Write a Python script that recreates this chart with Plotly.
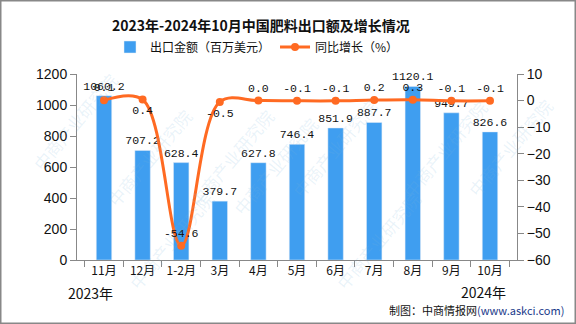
import plotly.graph_objects as go

categories = ["11月", "12月", "1-2月", "3月", "4月", "5月", "6月", "7月", "8月", "9月", "10月"]
export_value = [1060.2, 707.2, 628.4, 379.7, 627.8, 746.4, 851.9, 887.7, 1120.1, 949.7, 826.6]
growth = [0.1, 0.4, -54.6, -0.5, 0.0, -0.1, -0.1, 0.2, 0.3, -0.1, -0.1]
growth_pos = ["top center", "bottom center", "top center", "bottom center", "top center",
              "top center", "top center", "top center", "top center", "top center", "top center"]
left_ticks = [0, 200, 400, 600, 800, 1000, 1200]
right_ticks = [10, 0, -10, -20, -30, -40, -50, -60]

W, H = 576, 324
L, R, T, B = 77, 59, 74, 64
pw, ph = W - L - R, H - T - B


def py(pix):
    return (T + ph - pix) / ph


def px(pix):
    return (pix - L) / pw


label_font = dict(family="Liberation Mono, DejaVu Sans Mono, monospace", size=11.5, color="#111")
cjk = "Noto Sans CJK SC"

fig = go.Figure()
fig.add_trace(go.Bar(
    x=categories, y=export_value, name="出口金额（百万美元）",
    marker=dict(color="#3f9ef0"), width=0.4,
    text=[f"{v:.1f}" for v in export_value], textposition="outside", constraintext="none",
    textfont=label_font, cliponaxis=False, yaxis="y",
))
fig.add_trace(go.Scatter(
    x=categories, y=growth, name="同比增长（%）", yaxis="y2",
    mode="lines+markers+text", line=dict(color="#ff6a22", width=3, shape="spline", smoothing=1.0),
    marker=dict(color="#ff6a22", size=8),
    text=[f"{v:.1f}" for v in growth], textposition=growth_pos,
    textfont=label_font, cliponaxis=False,
))

# watermarks
wm_positions = [(-0.12, 1.05), (0.05, 0.55), (0.35, 0.85), (0.45, 0.2), (0.7, 0.6), (0.95, 0.9),
                (0.8, -0.2), (0.1, -0.2), (1.1, 0.3)]
annotations = []
for (wx, wy) in wm_positions:
    annotations.append(dict(x=wx, y=wy, xref="paper", yref="paper", text="中商产业研究院",
                            showarrow=False, textangle=-50,
                            font=dict(family=cjk, size=17, color="rgba(120,180,220,0.16)")))

annotations += [
    dict(x=px(90), y=py(293), xref="paper", yref="paper", text="2023年", showarrow=False,
         xanchor="center", yanchor="middle", font=dict(family=cjk, size=14, color="#111")),
    dict(x=px(483), y=py(292), xref="paper", yref="paper", text="2024年", showarrow=False,
         xanchor="center", yanchor="middle", font=dict(family=cjk, size=14, color="#111")),
    dict(x=px(566), y=py(310), xref="paper", yref="paper",
         text="制图：中商情报网<span style='color:#1a3a8a'>(www.askci.com)</span>", showarrow=False,
         xanchor="right", yanchor="middle", font=dict(family=cjk, size=11, color="#111")),
    dict(x=px(261), y=py(25), xref="paper", yref="paper",
         text="<b>2023年-2024年10月中国肥料出口额及增长情况</b>", showarrow=False,
         xanchor="center", yanchor="middle", font=dict(family=cjk, size=14, color="#111")),
]

border = dict(type="rect", xref="paper", yref="paper",
              x0=px(0.75), x1=px(W - 0.75), y0=py(H - 0.75), y1=py(0.75),
              line=dict(color="#888", width=1.5), fillcolor="rgba(0,0,0,0)", layer="above")

fig.update_layout(
    width=W, height=H, margin=dict(l=L, r=R, t=T, b=B, pad=0),
    paper_bgcolor="white", plot_bgcolor="white",
    showlegend=True,
    legend=dict(orientation="h", x=px(257), xanchor="center", y=py(47), yanchor="middle",
                font=dict(family=cjk, size=12, color="#111"), bgcolor="rgba(0,0,0,0)"),
    font=dict(family=cjk),
    xaxis=dict(type="category", showline=True, linecolor="#888", linewidth=1, ticks="outside",
               tickson="boundaries", ticklen=6, tickcolor="#888", tickangle=0,
               tickfont=dict(family=cjk, size=12, color="#111"), showgrid=False, zeroline=False),
    yaxis=dict(range=[0, 1200], tickvals=left_ticks, showline=True, linecolor="#888", linewidth=1,
               ticks="outside", ticklen=6, tickcolor="#888", showgrid=False, zeroline=False,
               tickfont=dict(family="Liberation Sans, Arial", size=14, color="#111")),
    yaxis2=dict(range=[-60, 10], tickvals=right_ticks, overlaying="y", side="right",
                showline=True, linecolor="#888", linewidth=1, ticks="outside", ticklen=6, tickcolor="#888",
                showgrid=False, zeroline=False,
                tickfont=dict(family="Liberation Sans, Arial", size=14, color="#111")),
    annotations=annotations,
    shapes=[border],
)

fig.write_html("out.html")
